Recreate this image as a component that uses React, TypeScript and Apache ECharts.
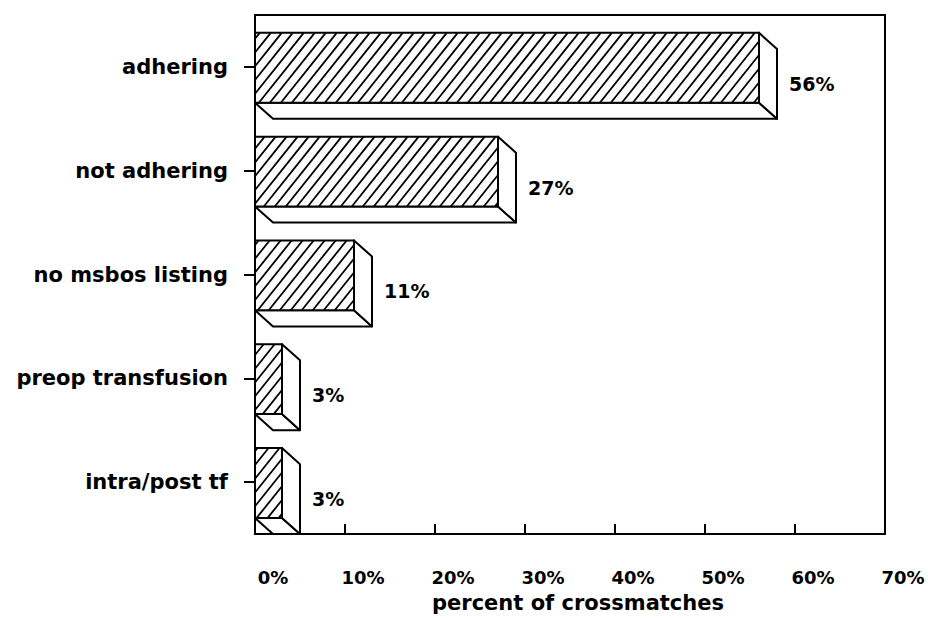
import React, { useEffect, useRef } from "react";
import * as echarts from "echarts";

const categories = ["adhering", "not adhering", "no msbos listing", "preop transfusion", "intra/post tf"];
const values = [56, 27, 11, 3, 3];
const xMin = 0;
const xMax = 70;
const xInterval = 10;
const xTitle = "percent of crossmatches";

const FONT = "DejaVu Sans";

function renderItem(params: any, api: any) {
  const v = api.value(0);
  const idx = api.value(1);
  const end = api.coord([v, idx]);
  const start = api.coord([0, idx]);
  const band = api.size([0, 1])[1];
  const xe = end[0];
  const c = end[1];
  const x0 = start[0];
  const top = c - band * 0.328;
  const bot = c + band * 0.345;
  const dy = band * 0.155;
  const dx = 18;
  const children: any[] = [];
  children.push({
    type: "polygon",
    shape: { points: [[x0, bot], [xe, bot], [xe + dx, bot + dy], [x0 + dx, bot + dy]] },
    style: { fill: "#fff", stroke: "#000", lineWidth: 2, lineJoin: "round" },
  });
  children.push({
    type: "polygon",
    shape: { points: [[xe, top], [xe + dx, top + dy], [xe + dx, bot + dy], [xe, bot]] },
    style: { fill: "#fff", stroke: "#000", lineWidth: 2, lineJoin: "round" },
  });
  children.push({
    type: "rect",
    shape: { x: x0, y: top, width: xe - x0, height: bot - top },
    style: { fill: "#fff", stroke: "#000", lineWidth: 2 },
  });
  const s = 1.25;
  const gap = 11;
  const kStart = x0 + top / s;
  const kEnd = xe + bot / s;
  const k0 = Math.floor(kStart / gap) * gap;
  for (let k = k0; k <= kEnd; k += gap) {
    const ya = Math.max(top, s * (k - xe));
    const yb = Math.min(bot, s * (k - x0));
    if (yb - ya < 0.5) continue;
    children.push({
      type: "line",
      shape: { x1: k - ya / s, y1: ya, x2: k - yb / s, y2: yb },
      style: { stroke: "#000", lineWidth: 1.8 },
    });
  }
  children.push({
    type: "text",
    style: {
      text: v + "%",
      x: xe + dx + 12,
      y: (top + dy + bot + dy) / 2,
      verticalAlign: "middle",
      align: "left",
      fill: "#000",
      fontFamily: FONT,
      fontWeight: "bold",
      fontSize: 19,
    },
  });
  return { type: "group", children };
}

export default function App() {
  const ref = useRef<HTMLDivElement>(null);
  useEffect(() => {
    document.body.style.margin = "0";
    const chart = echarts.init(ref.current!, undefined, { renderer: "svg" });
    chart.setOption({
      animation: false,
      backgroundColor: "#fff",
      grid: {
        left: 255,
        right: 43,
        top: 15,
        bottom: 84,
        show: true,
        borderColor: "#000",
        borderWidth: 2,
        containLabel: false,
        outerBoundsMode: "none",
      },
      xAxis: {
        type: "value",
        min: xMin,
        max: xMax,
        interval: xInterval,
        splitLine: { show: false },
        axisLine: { show: true, lineStyle: { color: "#000", width: 2 } },
        axisTick: { show: true, inside: true, length: 10, lineStyle: { color: "#000", width: 2 } },
        axisLabel: {
          formatter: "{value}%",
          color: "#000",
          fontFamily: FONT,
          fontWeight: "bold",
          fontSize: 18,
          align: "center",
          padding: [0, 0, 0, 36],
          margin: 34,
          showMinLabel: true,
          showMaxLabel: true,
        },
        name: xTitle,
        nameLocation: "middle",
        nameGap: 58,
        nameTextStyle: { color: "#000", fontFamily: FONT, fontWeight: "bold", fontSize: 21, padding: [0, 0, 0, 16] },
      },
      yAxis: {
        type: "category",
        data: categories,
        inverse: true,
        axisLine: { show: true, lineStyle: { color: "#000", width: 2 } },
        axisTick: { show: true, inside: false, length: 11, alignWithLabel: true, lineStyle: { color: "#000", width: 2 } },
        axisLabel: { color: "#000", fontFamily: FONT, fontWeight: "bold", fontSize: 21, margin: 27, padding: [6, 0, 0, 0] },
        splitLine: { show: false },
      },
      series: [
        {
          type: "custom",
          renderItem,
          encode: { x: 0, y: 1 },
          data: values.map((v, i) => [v, i]),
          clip: false,
        },
      ],
    });
    return () => chart.dispose();
  }, []);
  return <div ref={ref} style={{ width: 928, height: 618 }} />;
}
